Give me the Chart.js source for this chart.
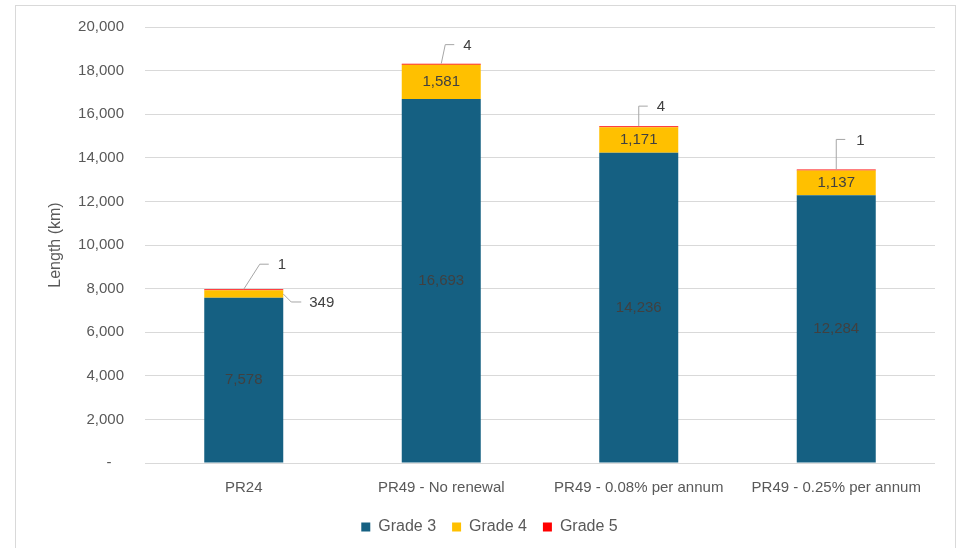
<!DOCTYPE html>
<html>
<head>
<meta charset="utf-8">
<script src="https://cdn.jsdelivr.net/npm/chart.js@4/dist/chart.umd.min.js"></script>
<style>
  html, body { margin: 0; padding: 0; background: #fff; overflow: hidden; }
  #frame { position: absolute; left: 15px; top: 5px; width: 939px; height: 600px; border: 1px solid #d9d9d9; }
  #chart { position: absolute; left: 0; top: 0; }
</style>
</head>
<body>
<div id="frame"></div>
<canvas id="chart" width="957" height="548"></canvas>
<script>
const categories = ['PR24', 'PR49 - No renewal', 'PR49 - 0.08% per annum', 'PR49 - 0.25% per annum'];
const grade3 = [7578, 16693, 14236, 12284];
const grade4 = [349, 1581, 1171, 1137];
const grade5 = [1, 4, 4, 1];
const yTicks = [0, 2000, 4000, 6000, 8000, 10000, 12000, 14000, 16000, 18000, 20000];

const FONT = '"Liberation Sans", Arial, sans-serif';
const TEXT = '#595959';
const LABEL = '#404040';
const fmt = v => v.toLocaleString('en-US');

// leader-line labels: elbow and line end relative to the anchor point, text x offset
const callouts = [
  { ds: 2, i: 0, anchor: 'top', elbow: [16, -25], end: [25, -25], tx: 34 },
  { ds: 1, i: 0, anchor: 'right', elbow: [8, 8], end: [18, 8], tx: 26 },
  { ds: 2, i: 1, anchor: 'top', elbow: [4, -19], end: [13, -19], tx: 22 },
  { ds: 2, i: 2, anchor: 'top', elbow: [0, -20], end: [9, -20], tx: 18 },
  { ds: 2, i: 3, anchor: 'top', elbow: [0, -30], end: [9, -30], tx: 20 }
];

const barLabels = {
  id: 'barLabels',
  afterDatasetsDraw(chart) {
    const ctx = chart.ctx;
    ctx.save();
    ctx.font = '15px ' + FONT;
    ctx.fillStyle = LABEL;
    ctx.textBaseline = 'middle';
    ctx.textAlign = 'center';
    // values printed inside the segments
    [0, 1].forEach(ds => {
      const meta = chart.getDatasetMeta(ds);
      meta.data.forEach((bar, i) => {
        if (callouts.some(c => c.ds === ds && c.i === i)) return;
        const v = chart.data.datasets[ds].data[i];
        ctx.fillText(fmt(v), bar.x, (bar.y + bar.base) / 2);
      });
    });
    // values pulled out with leader lines
    ctx.textAlign = 'left';
    callouts.forEach(c => {
      const bar = chart.getDatasetMeta(c.ds).data[c.i];
      const v = chart.data.datasets[c.ds].data[c.i];
      let ax = bar.x, ay = bar.y;
      if (c.anchor === 'right') { ax = bar.x + bar.width / 2; ay = (bar.y + bar.base) / 2; }
      ctx.strokeStyle = '#a6a6a6';
      ctx.lineWidth = 1;
      ctx.beginPath();
      ctx.moveTo(ax, ay);
      ctx.lineTo(ax + c.elbow[0], ay + c.elbow[1]);
      ctx.lineTo(ax + c.end[0], ay + c.end[1]);
      ctx.stroke();
      ctx.fillText(fmt(v), ax + c.tx, ay + c.end[1] + 1);
    });
    ctx.restore();
  }
};

new Chart(document.getElementById('chart'), {
  type: 'bar',
  data: {
    labels: categories,
    datasets: [
      { label: 'Grade 3', data: grade3, backgroundColor: '#156082' },
      { label: 'Grade 4', data: grade4, backgroundColor: '#ffc000' },
      { label: 'Grade 5', data: grade5, backgroundColor: '#ff0000', minBarLength: 1 }
    ]
  },
  options: {
    responsive: false,
    devicePixelRatio: 1,
    animation: false,
    categoryPercentage: 1,
    barPercentage: 0.4,
    layout: { padding: { top: 27, right: 22, left: 44, bottom: 3 } },
    plugins: {
      legend: {
        position: 'bottom',
        labels: { boxWidth: 9, boxHeight: 9, color: TEXT, font: { family: FONT, size: 16 }, padding: 16 }
      },
      tooltip: { enabled: false }
    },
    scales: {
      x: {
        stacked: true,
        grid: { display: false },
        border: { display: false },
        ticks: { color: TEXT, font: { family: FONT, size: 15 }, padding: 8, maxRotation: 0 },
        afterFit: s => { s.height = 40; }
      },
      y: {
        stacked: true,
        min: 0,
        max: 20000,
        afterBuildTicks: s => { s.ticks = yTicks.map(v => ({ value: v })); },
        grid: { color: '#d9d9d9', drawTicks: false },
        border: { display: false },
        ticks: {
          color: TEXT,
          font: { family: FONT, size: 15 },
          padding: 21,
          callback: v => v === 0 ? '-   ' : fmt(v)
        },
        title: { display: true, text: 'Length (km)', color: TEXT, font: { family: FONT, size: 16 }, padding: { top: 2 } },
        afterFit: s => { s.width = 101; s.paddingTop = 0; s.paddingBottom = 0; }
      }
    }
  },
  plugins: [barLabels]
});
</script>
</body>
</html>
